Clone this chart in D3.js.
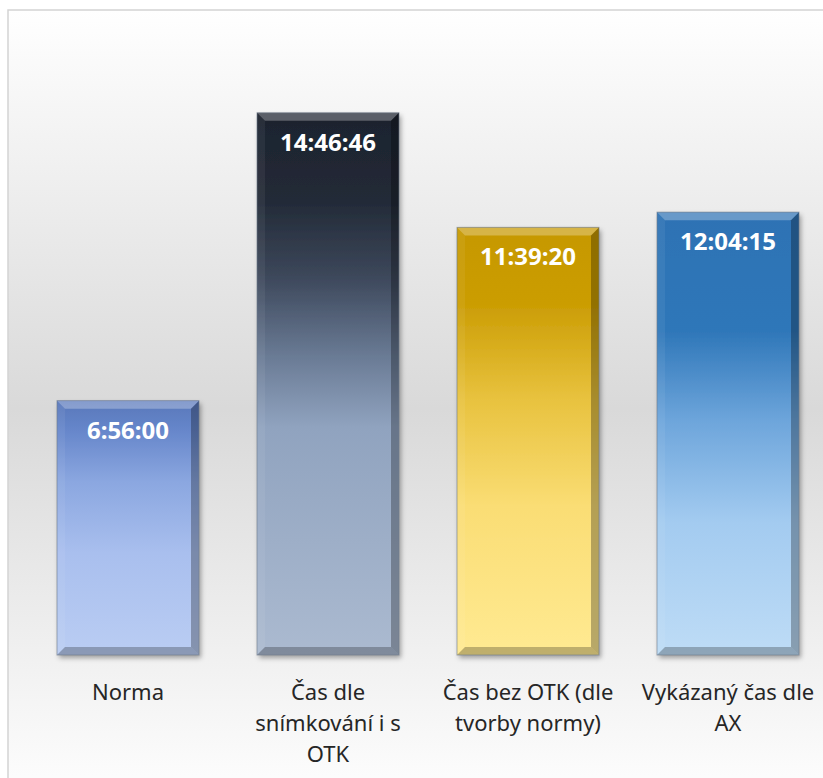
<!DOCTYPE html>
<html>
<head>
<meta charset="utf-8">
<script src="https://cdn.jsdelivr.net/npm/d3@7"></script>
<style>
  html, body { margin: 0; padding: 0; background: #ffffff; }
  svg { display: block; }
</style>
</head>
<body>
<script>
// ---- data ----
const categories = ["Norma", "Čas dle\nsnímkování i s\nOTK", "Čas bez OTK (dle\ntvorby normy)", "Vykázaný čas dle\nAX"];
const valueLabels = ["6:56:00", "14:46:46", "11:39:20", "12:04:15"];
const valuesSeconds = [6*3600 + 56*60 + 0, 14*3600 + 46*60 + 46, 11*3600 + 39*60 + 20, 12*3600 + 4*60 + 15];
const yMaxSeconds = 16 * 3600;

// ---- styles ----
const barGradients = [
  [[0, "#5877ba"], [0.12, "#6787cb"], [0.32, "#8ba7e0"], [0.6, "#a9bfee"], [1, "#bacdf3"]],
  [[0, "#1d232e"], [0.16, "#222a37"], [0.3, "#3c475a"], [0.45, "#6a7b95"], [0.58, "#90a3bf"], [1, "#abbad0"]],
  [[0, "#c69800"], [0.18, "#cb9d04"], [0.4, "#e8c23e"], [0.65, "#fadd74"], [1, "#ffea92"]],
  [[0, "#2d72b4"], [0.27, "#2f77b9"], [0.47, "#6da5db"], [0.7, "#a3cbf0"], [1, "#bedcf6"]]
];

const W = 823, H = 778;
const svg = d3.select("body").append("svg").attr("width", W).attr("height", H);
const defs = svg.append("defs");

// background gradient
const bg = defs.append("linearGradient").attr("id", "bg").attr("x1", 0).attr("y1", 0).attr("x2", 0).attr("y2", 1);
bg.append("stop").attr("offset", 0).attr("stop-color", "#ffffff");
bg.append("stop").attr("offset", 0.5).attr("stop-color", "#d9d9d9");
bg.append("stop").attr("offset", 1).attr("stop-color", "#ffffff");

barGradients.forEach((stops, i) => {
  const g = defs.append("linearGradient").attr("id", "bar" + i).attr("x1", 0).attr("y1", 0).attr("x2", 0).attr("y2", 1);
  stops.forEach(s => g.append("stop").attr("offset", s[0]).attr("stop-color", s[1]));
});

const f = defs.append("filter").attr("id", "shadow").attr("x", "-10%").attr("y", "-10%").attr("width", "130%").attr("height", "130%");
f.append("feDropShadow").attr("dx", 2).attr("dy", 3).attr("stdDeviation", 2.5).attr("flood-color", "#000").attr("flood-opacity", 0.35);

// chart area background and border
svg.append("rect").attr("x", 8).attr("y", 10).attr("width", W + 20).attr("height", H + 20)
  .attr("fill", "url(#bg)").attr("stroke", "#d4d4d4").attr("stroke-width", 1.5);

// scales
const x = d3.scaleBand().domain(categories).range([28, 828]).paddingInner(0.29).paddingOuter(0.145);
const y = d3.scaleLinear().domain([0, yMaxSeconds]).range([655, 68]);

const bw = x.bandwidth();
const bev = 8;

const bars = svg.append("g").selectAll("g").data(categories).join("g");

bars.each(function(c, i) {
  const g = d3.select(this);
  const x0 = x(c), x1 = x0 + bw;
  const y0 = y(valuesSeconds[i]), y1 = y(0);
  g.append("rect").attr("x", x0).attr("y", y0).attr("width", bw).attr("height", y1 - y0)
    .attr("fill", "url(#bar" + i + ")").attr("filter", "url(#shadow)");
  // bevel faces
  const faces = [
    { pts: [[x0, y0], [x1, y0], [x1 - bev, y0 + bev], [x0 + bev, y0 + bev]], fill: "#ffffff", op: 0.28 },
    { pts: [[x0, y0], [x0 + bev, y0 + bev], [x0 + bev, y1 - bev], [x0, y1]], fill: "#ffffff", op: 0.06 },
    { pts: [[x1, y0], [x1, y1], [x1 - bev, y1 - bev], [x1 - bev, y0 + bev]], fill: "#000000", op: 0.28 },
    { pts: [[x0, y1], [x0 + bev, y1 - bev], [x1 - bev, y1 - bev], [x1, y1]], fill: "#000000", op: 0.25 }
  ];
  faces.forEach(fc => {
    g.append("path").attr("d", "M" + fc.pts.map(p => p.join(",")).join("L") + "Z")
      .attr("fill", fc.fill).attr("fill-opacity", fc.op);
  });
  g.append("rect").attr("x", x0).attr("y", y0).attr("width", bw).attr("height", y1 - y0)
    .attr("fill", "none").attr("stroke", "#6f7b8c").attr("stroke-opacity", 0.6).attr("stroke-width", 1);
  g.append("text").attr("x", x0 + bw / 2).attr("y", y0 + 38)
    .attr("text-anchor", "middle").attr("fill", "#ffffff")
    .attr("font-family", "'Noto Sans', 'Open Sans', sans-serif").attr("font-weight", "bold").attr("font-size", 24)
    .text(valueLabels[i]);
});

// category labels
const labels = svg.append("g").selectAll("text").data(categories).join("text")
  .attr("text-anchor", "middle").attr("fill", "#262626")
  .attr("font-family", "'Noto Sans', 'Open Sans', sans-serif").attr("font-size", 22)
  .attr("x", d => x(d) + bw / 2).attr("y", 700);
labels.each(function(d) {
  const t = d3.select(this);
  d.split("\n").forEach((line, k) => {
    t.append("tspan").attr("x", x(d) + bw / 2).attr("dy", k === 0 ? 0 : 31).text(line);
  });
});
</script>
</body>
</html>
